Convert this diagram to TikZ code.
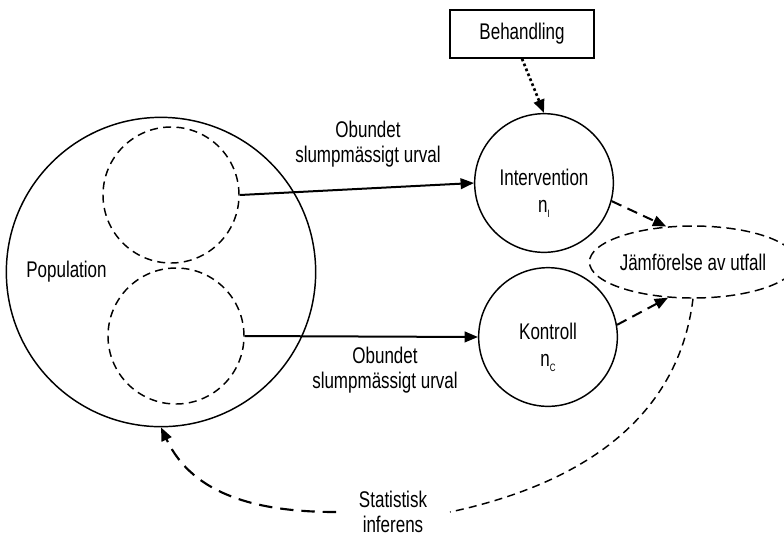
\documentclass[tikz,border=0pt]{standalone}
\usepackage{fontspec}
\setmainfont[FakeStretch=0.75]{Liberation Sans}
\usetikzlibrary{arrows.meta}
\usetikzlibrary{positioning, shapes.geometric}

\begin{document}
\begin{tikzpicture}[x=0.75pt,y=-0.75pt,>={Triangle[length=10pt,width=8pt]},
        font=\fontsize{17}{19}\selectfont,
        pop node/.style={circle,draw,line width=1.1pt,minimum size=232pt,inner sep=0pt},
        sample node/.style={circle,draw,line width=1.1pt,dash pattern=on 6pt off 4pt,minimum size=102pt,inner sep=0pt},
        group node/.style={circle,draw,line width=1.1pt,minimum size=104pt,inner sep=0pt},
        group text/.style={align=center,yshift=-8pt},
        box node/.style={rectangle,draw,line width=1.1pt,minimum width=108pt,minimum height=36pt},
        out node/.style={ellipse,draw,line width=1.1pt,dash pattern=on 7pt off 4pt,minimum width=133pt,minimum height=54pt,inner sep=0pt},
        sample edge/.style={->,line width=1.5pt},
        compare edge/.style={->,line width=1.5pt,dash pattern=on 8pt off 5pt}]

        \useasboundingbox (0,0) rectangle (784,537);

        % population with its two samples
        \node[pop node,label={[anchor=west,xshift=12pt]west:Population}] (pop) at (161,272) {};
        \node[sample node] (s1) at (171,195) {};
        \node[sample node] (s2) at (176,336) {};

        % treatment groups
        \node[group node,label={[group text]center:Intervention\\[1pt]n\raisebox{-4pt}{\footnotesize I}}] (int) at (544,183) {};
        \node[group node,label={[group text]center:Kontroll\\[1pt]n\raisebox{-4pt}{\footnotesize C}}] (kon) at (548,337) {};
        \node[box node]   (beh) at (522,34)  {Behandling};
        \node[out node]   (jmf) at (693,262) {J\"amf\"orelse av utfall};

        \node[align=center] (urv1) at (368,144) {Obundet\\slumpm\"assigt urval};
        \node[align=center] (urv2) at (385,370) {Obundet\\slumpm\"assigt urval};
        \node[align=center,inner xsep=17pt] (inf) at (393,512) {Statistisk\\inferens};

        \draw[sample edge] (s1.east) -- (int.west);
        \draw[sample edge] (s2.east) -- (kon.west);
        \draw[->,line width=2pt,dotted] (beh.south) -- (int.north);
        \draw[compare edge] (int.-15) -- (jmf.127);
        \draw[compare edge] (kon.10) -- (jmf.235);

        % inference back to the population
        \draw[line width=1.1pt,dash pattern=on 6pt off 4pt] (jmf.south) to[out=-97,in=12] (inf.east);
        \draw[->,line width=1.6pt,dash pattern=on 10pt off 6pt] (inf.west) to[out=180,in=-65] (pop.south);
\end{tikzpicture}
\end{document}
